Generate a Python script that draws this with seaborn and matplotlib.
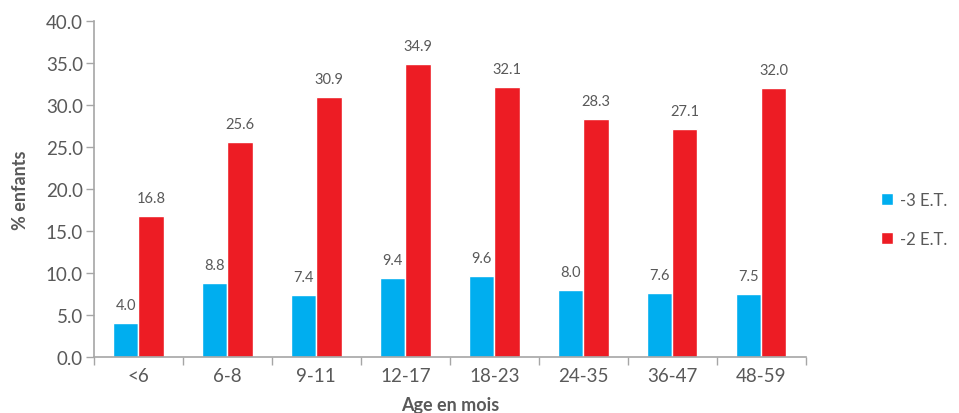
import matplotlib
matplotlib.use("Agg")
import matplotlib.pyplot as plt
import seaborn as sns
import pandas as pd
import numpy as np
from matplotlib.ticker import FixedLocator

categories = ["<6", "6-8", "9-11", "12-17", "18-23", "24-35", "36-47", "48-59"]
series_names = ["-3 E.T.", "-2 E.T."]
vals_m3 = [4.0, 8.8, 7.4, 9.4, 9.6, 8.0, 7.6, 7.5]
vals_m2 = [16.8, 25.6, 30.9, 34.9, 32.1, 28.3, 27.1, 32.0]
y_ticks = [0, 5, 10, 15, 20, 25, 30, 35, 40]

df = pd.DataFrame({
    "age": categories * 2,
    "serie": [series_names[0]] * len(categories) + [series_names[1]] * len(categories),
    "val": vals_m3 + vals_m2,
})

sns.set_theme(style="white")
plt.rcParams['font.family'] = ['Lato', 'DejaVu Sans']
txt = "#595959"
axc = "#A6A6A6"

fig = plt.figure(figsize=(9.59, 4.14), dpi=100)
ax = fig.add_axes([0.098, 0.135, 0.742, 0.812])

sns.barplot(data=df, x="age", y="val", hue="serie", order=categories,
            hue_order=series_names, palette=["#00AEEF", "#ED1C24"],
            width=0.57, saturation=1, ax=ax, legend=True)

for cont in ax.containers:
    ax.bar_label(cont, fmt="%.1f", padding=8, color=txt, fontsize=10.5)

ax.set_ylim(0, 40)
ax.set_xlim(-0.5, len(categories) - 0.5)
ax.set_yticks(y_ticks)
ax.set_yticklabels([f"{v:.1f}" for v in y_ticks], color=txt, fontsize=13.5)
ax.set_xticklabels(categories, color=txt, fontsize=13.5)
ax.xaxis.set_minor_locator(FixedLocator(np.arange(-0.5, len(categories), 1.0)))
ax.tick_params(axis="x", which="major", length=0, pad=7)
ax.tick_params(axis="x", which="minor", length=6, color=axc, width=1, bottom=True, direction="out")
ax.tick_params(axis="y", which="major", length=6, color=axc, width=1, left=True, direction="out", pad=2)

for s in ["top", "right"]:
    ax.spines[s].set_visible(False)
for s in ["left", "bottom"]:
    ax.spines[s].set_color(axc)
    ax.spines[s].set_linewidth(1.2)

ax.set_xlabel("Age en mois", fontsize=13, fontweight="bold", color=txt, labelpad=9)
ax.set_ylabel("% enfants", fontsize=13, fontweight="bold", color=txt, labelpad=12)

leg = ax.legend(loc="center left", bbox_to_anchor=(1.09, 0.41), frameon=False,
                fontsize=12, handlelength=0.7, handleheight=0.7, labelspacing=1.4,
                handletextpad=0.4, borderpad=0.2)
for t in leg.get_texts():
    t.set_color(txt)

fig.savefig("out.png", dpi=100)
